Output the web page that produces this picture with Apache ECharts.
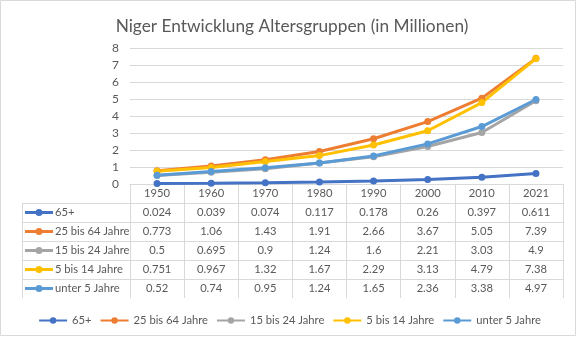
<!DOCTYPE html>
<html><head><meta charset="utf-8">
<script src="https://cdn.jsdelivr.net/npm/echarts@6/dist/echarts.min.js"></script>
<style>html,body{margin:0;padding:0;background:#fff}#c{width:579px;height:338px}</style>
</head><body><div id="c"></div>
<script>
const years = ['1950','1960','1970','1980','1990','2000','2010','2021'];
const names = ['65+','25 bis 64 Jahre','15 bis 24 Jahre','5 bis 14 Jahre','unter 5 Jahre'];
const s65 = [0.024,0.039,0.074,0.117,0.178,0.26,0.397,0.611];
const s25 = [0.773,1.06,1.43,1.91,2.66,3.67,5.05,7.39];
const s15 = [0.5,0.695,0.9,1.24,1.6,2.21,3.03,4.9];
const s5 = [0.751,0.967,1.32,1.67,2.29,3.13,4.79,7.38];
const sU5 = [0.52,0.74,0.95,1.24,1.65,2.36,3.38,4.97];
const colors = ['#4472C4','#ED7D31','#A5A5A5','#FFC000','#5B9BD5'];
const allData = [s65,s25,s15,s5,sU5];

const W=579,H=338, gL=130, gR=563, gT=48, gB=184, rowH=19, tabL=22;
const txt='#595959', gridC='#d9d9d9', FF='Lato, sans-serif', fs=11.2;

const graphics = [{type:'rect',shape:{x:0.5,y:0.5,width:575,height:335},style:{fill:null,stroke:gridC,lineWidth:1},silent:true}];
for(let i=1;i<=names.length;i++){
  const y=gB+rowH*i+0.5;
  graphics.push({type:'line',shape:{x1:tabL,y1:y,x2:gR,y2:y},style:{stroke:gridC,lineWidth:1},silent:true});
}
graphics.push({type:'line',shape:{x1:tabL+0.5,y1:gB+rowH,x2:tabL+0.5,y2:gB+rowH*(names.length+1)},style:{stroke:gridC,lineWidth:1},silent:true});
names.forEach((n,i)=>{
  const cy=gB+rowH*(i+1)+rowH/2;
  graphics.push({type:'line',shape:{x1:tabL+3,y1:cy,x2:tabL+31,y2:cy},style:{stroke:colors[i],lineWidth:3},silent:true});
  graphics.push({type:'circle',shape:{cx:tabL+17,cy:cy,r:3.5},style:{fill:colors[i]},silent:true});
  graphics.push({type:'text',x:tabL+33,y:cy,style:{text:n,fill:txt,font:fs+'px '+FF,verticalAlign:'middle'},silent:true});
});

const chart = echarts.init(document.getElementById('c'));
chart.setOption({
  animation:false,
  color:colors,
  title:{text:'Niger Entwicklung Altersgruppen (in Millionen)',left:287,textAlign:'center',top:13,textStyle:{color:txt,fontSize:17.3,fontWeight:'normal',fontFamily:FF}},
  grid:{left:gL,right:W-gR,top:gT,bottom:H-gB,containLabel:false},
  legend:{top:310,left:'center',itemWidth:28,itemHeight:8,itemGap:8,textStyle:{color:txt,fontSize:fs,fontFamily:FF},data:names},
  xAxis:{type:'category',data:years,boundaryGap:true,
    axisLine:{lineStyle:{color:gridC}},
    axisTick:{show:true,interval:0,length:rowH*(names.length+1),lineStyle:{color:gridC}},
    axisLabel:{interval:0,margin:0,color:txt,fontSize:fs,fontFamily:FF,lineHeight:rowH,
      formatter:(v,idx)=>[v].concat(allData.map(a=>String(a[idx]))).join('\n')}},
  yAxis:{type:'value',min:0,max:8,interval:1,
    axisLine:{show:false},axisTick:{show:false},
    splitLine:{lineStyle:{color:gridC}},
    axisLabel:{color:txt,fontSize:fs+0.8,fontFamily:FF,margin:11}},
  series:names.map((n,i)=>({name:n,type:'line',data:allData[i],symbol:'circle',symbolSize:7,
    lineStyle:{width:3,color:colors[i]},itemStyle:{color:colors[i]}})),
  graphic:graphics
});
</script></body></html>
